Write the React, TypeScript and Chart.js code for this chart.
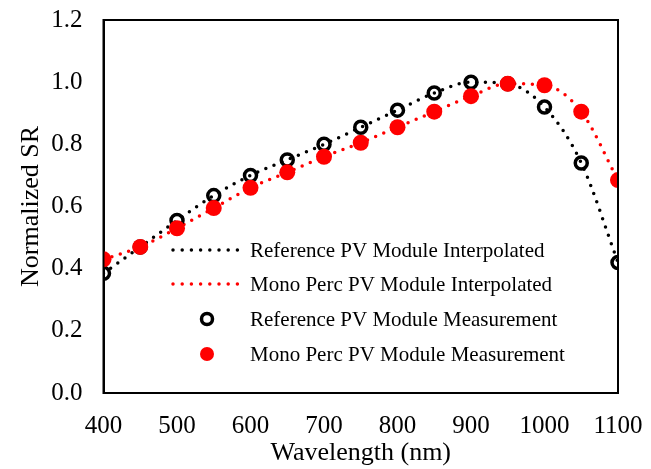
import React, { useEffect, useRef } from "react";
import { Chart, registerables } from "chart.js";

Chart.register(...registerables);

const wavelengths = [400, 450, 500, 550, 600, 650, 700, 750, 800, 850, 900, 950, 1000, 1050, 1100];
const referenceSR = [0.385, 0.47, 0.555, 0.635, 0.70, 0.75, 0.80, 0.855, 0.91, 0.965, 1.0, 0.995, 0.92, 0.74, 0.42];
const monoPercSR = [0.43, 0.47, 0.53, 0.595, 0.66, 0.71, 0.76, 0.805, 0.855, 0.905, 0.955, 0.995, 0.99, 0.905, 0.685];
const seriesLabels = [
  "Reference PV Module Interpolated",
  "Mono Perc PV Module Interpolated",
  "Reference PV Module Measurement",
  "Mono Perc PV Module Measurement",
];
const xTicks = [400, 500, 600, 700, 800, 900, 1000, 1100];
const yTicks = [0, 0.2, 0.4, 0.6, 0.8, 1.0, 1.2];

const FONT = "'Liberation Serif', 'Times New Roman', serif";

const toPoints = (ys: number[]) => wavelengths.map((x, i) => ({ x, y: ys[i] }));

const boxPlugin = {
  id: "boxPlugin",
  afterDraw(chart: any) {
    const { ctx, chartArea } = chart;
    ctx.save();
    ctx.strokeStyle = "#000";
    ctx.lineWidth = 2;
    ctx.strokeRect(chartArea.left, chartArea.top, chartArea.right - chartArea.left, chartArea.bottom - chartArea.top);
    ctx.restore();
  },
};

const legendPlugin = {
  id: "customLegend",
  afterDraw(chart: any) {
    const { ctx } = chart;
    const rowsY = [250, 284, 319, 354];
    const x0 = 173;
    const x1 = 238;
    const tx = 250;
    ctx.save();
    chart.data.datasets.forEach((ds: any, i: number) => {
      const y = rowsY[i];
      if (ds.showLine) {
        ctx.beginPath();
        ctx.strokeStyle = ds.borderColor;
        ctx.lineWidth = 3.5;
        ctx.lineCap = "round";
        ctx.setLineDash([0, 9.2]);
        ctx.moveTo(x0, y);
        ctx.lineTo(x1, y);
        ctx.stroke();
        ctx.setLineDash([]);
      } else {
        const cx = 207;
        ctx.beginPath();
        if (ds.pointBorderWidth > 0) {
          ctx.arc(cx, y, 5.5, 0, Math.PI * 2);
          ctx.lineWidth = 3.5;
          ctx.strokeStyle = "#000";
          ctx.stroke();
        } else {
          ctx.arc(cx, y, 7, 0, Math.PI * 2);
          ctx.fillStyle = "#ff0000";
          ctx.fill();
        }
      }
      ctx.fillStyle = "#000";
      ctx.font = `21px ${FONT}`;
      ctx.textBaseline = "middle";
      ctx.textAlign = "left";
      ctx.fillText(ds.label, tx, y + 1);
    });
    ctx.restore();
  },
};

export default function App() {
  const ref = useRef<HTMLCanvasElement | null>(null);
  useEffect(() => {
    if (!ref.current) return;
    const chart = new Chart(ref.current, {
      type: "scatter",
      data: {
        datasets: [
          {
            label: seriesLabels[0],
            data: toPoints(referenceSR),
            showLine: true,
            borderColor: "#000000",
            borderWidth: 3.5,
            borderDash: [0, 8.8],
            borderCapStyle: "round",
            cubicInterpolationMode: "monotone",
            pointRadius: 0,
            order: 3,
          } as any,
          {
            label: seriesLabels[1],
            data: toPoints(monoPercSR),
            showLine: true,
            borderColor: "#ff0000",
            borderWidth: 3.5,
            borderDash: [0, 8.8],
            borderCapStyle: "round",
            cubicInterpolationMode: "monotone",
            pointRadius: 0,
            order: 2,
          } as any,
          {
            label: seriesLabels[2],
            data: toPoints(referenceSR),
            showLine: false,
            pointRadius: 6,
            pointBorderWidth: 3.5,
            pointBorderColor: "#000000",
            pointBackgroundColor: "rgba(0,0,0,0)",
            order: 1,
          } as any,
          {
            label: seriesLabels[3],
            data: toPoints(monoPercSR),
            showLine: false,
            pointRadius: 8,
            pointBorderWidth: 0,
            pointBackgroundColor: "#ff0000",
            pointBorderColor: "#ff0000",
            order: 0,
          } as any,
        ],
      },
      options: {
        animation: false,
        responsive: false,
        maintainAspectRatio: false,
        layout: { padding: { top: 20, right: 33, left: 0, bottom: 0 } },
        plugins: { legend: { display: false }, tooltip: { enabled: false } },
        scales: {
          x: {
            type: "linear",
            min: 400,
            max: 1100,
            afterBuildTicks: (s: any) => {
              s.ticks = xTicks.map((v) => ({ value: v }));
            },
            afterFit: (s: any) => {
              s.height = 76;
              s.paddingLeft = 0;
              s.paddingRight = 0;
            },
            grid: { display: false, drawTicks: false },
            border: { color: "#000", width: 2 },
            ticks: { color: "#000", font: { family: FONT, size: 25 }, padding: 18, maxRotation: 0, callback: (v: any) => String(v) },
            title: { display: true, text: "Wavelength (nm)", color: "#000", font: { family: FONT, size: 26 }, padding: { top: 0, bottom: 0 } },
          },
          y: {
            type: "linear",
            min: 0,
            max: 1.2,
            afterBuildTicks: (s: any) => {
              s.ticks = yTicks.map((v) => ({ value: v }));
            },
            afterFit: (s: any) => {
              s.width = 103.5;
              s.paddingTop = 0;
              s.paddingBottom = 0;
            },
            grid: { display: false, drawTicks: false },
            border: { color: "#000", width: 2 },
            ticks: { color: "#000", font: { family: FONT, size: 25 }, padding: 21, callback: (v: any) => Number(v).toFixed(1) },
            title: { display: true, text: "Normalized SR", color: "#000", font: { family: FONT, size: 26 }, padding: { top: 16, bottom: 0 } },
          },
        },
      } as any,
      plugins: [boxPlugin, legendPlugin],
    });
    return () => chart.destroy();
  }, []);
  return (
    <div style={{ position: "absolute", left: 0, top: 0, width: 651, height: 469, background: "#fff" }}>
      <canvas ref={ref} width={651} height={469} style={{ width: 651, height: 469 }} />
    </div>
  );
}
